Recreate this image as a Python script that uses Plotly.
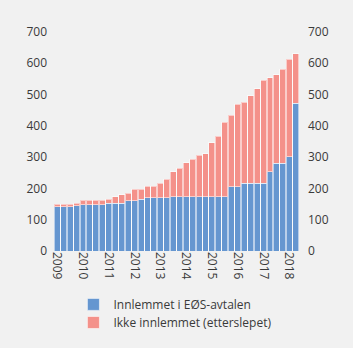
import plotly.graph_objects as go

# Quarterly series, 2009 Q1 - 2018 Q2
quarters = [f"{y}K{q}" for y in range(2009, 2019) for q in range(1, 5)][:38]
year_labels = [str(y) for y in range(2009, 2019)]

innlemmet = [141, 141, 141, 145, 148, 148, 148, 148, 152, 153, 152, 161,
             161, 165, 170, 170, 170, 170, 174, 174, 174, 174, 174, 174,
             174, 174, 174, 206, 206, 217, 217, 217, 217, 254, 280, 280,
             302, 473]
totalt = [149, 149, 149, 153, 163, 163, 163, 163, 166, 173, 180, 184,
          197, 197, 207, 207, 216, 229, 254, 264, 282, 293, 306, 311,
          346, 367, 412, 434, 469, 476, 497, 518, 546, 554, 564, 581,
          613, 631]
ikke_innlemmet = [t - b for t, b in zip(totalt, innlemmet)]

y_ticks = list(range(0, 701, 100))

BLUE = "#6596d0"
RED = "#f4918a"
BG = "#f1f1f1"
TXT = "#3a3a3a"
FONT = "Open Sans"

fig = go.Figure()
edge = dict(color="rgba(255,255,255,0.55)", width=1)
fig.add_bar(x=quarters, y=innlemmet, name="Innlemmet i EØS-avtalen",
            marker=dict(color=BLUE, line=edge), legend="legend")
fig.add_bar(x=quarters, y=ikke_innlemmet, name="Ikke innlemmet (etterslepet)",
            marker=dict(color=RED, line=edge), legend="legend2")
# mirror axis on the right-hand side
fig.add_scatter(x=quarters[:1], y=[0], yaxis="y2", mode="markers",
                marker=dict(opacity=0), showlegend=False, hoverinfo="skip")

axis_y = dict(range=[0, 700], tickvals=y_ticks, showgrid=False, zeroline=False,
              showline=False, ticks="", ticklabelstandoff=6,
              tickfont=dict(size=12, color=TXT, family=FONT))

legend_style = dict(orientation="v", x=0.208, xanchor="left", xref="container",
                    yanchor="top", yref="container", itemwidth=30,
                    bgcolor="rgba(0,0,0,0)",
                    font=dict(size=12, color=TXT, family=FONT))

fig.update_layout(
    width=353, height=348,
    margin=dict(l=54, r=54, t=32, b=97, autoexpand=False),
    paper_bgcolor=BG, plot_bgcolor=BG,
    barmode="stack", bargap=0.08,
    font=dict(family=FONT, size=12, color=TXT),
    xaxis=dict(tickvals=quarters[::4], ticktext=year_labels, tickangle=90,
               range=[-0.5, len(quarters) - 0.5], autorange=False,
               showgrid=False, showline=False, ticks="", automargin=False,
               tickfont=dict(size=12, color=TXT, family=FONT)),
    yaxis=dict(axis_y, automargin=False),
    yaxis2=dict(axis_y, overlaying="y", side="right", automargin=False,
                ticklabelstandoff=8),
    legend=dict(legend_style, y=0.167),
    legend2=dict(legend_style, y=0.115),
    showlegend=True,
)

fig.write_html("out.html")
